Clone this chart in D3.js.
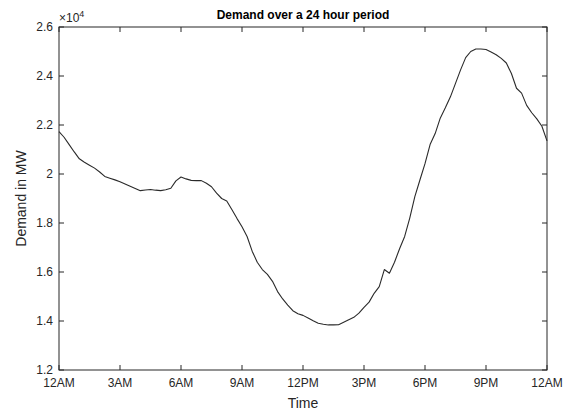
<!DOCTYPE html>
<html>
<head>
<meta charset="utf-8">
<script src="https://cdn.jsdelivr.net/npm/d3@7"></script>
<style>
  body { margin: 0; background: #fff; }
  svg { font-family: "Liberation Sans", Arial, sans-serif; }
</style>
</head>
<body>
<svg id="chart" width="571" height="410"></svg>
<script>
// demand sampled every 15 minutes, hour 0 .. 24
const STEP_HOURS = 0.25;
const demand = [
  21730, 21500, 21200, 20900, 20620, 20480, 20360, 20240,
  20080, 19900, 19830, 19760, 19680, 19590, 19500, 19410,
  19320, 19350, 19370, 19340, 19320, 19360, 19420, 19720,
  19880, 19800, 19740, 19730, 19730, 19620, 19480, 19220,
  19000, 18900, 18550, 18190, 17850, 17450, 16850, 16400,
  16100, 15900, 15620, 15200, 14900, 14650, 14420, 14300,
  14230, 14120, 14010, 13910, 13870, 13840, 13840, 13850,
  13950, 14050, 14150, 14320, 14560, 14770, 15130, 15400,
  16100, 15950, 16400, 16950, 17450, 18200, 19080, 19755,
  20420, 21200, 21650, 22280, 22700, 23150, 23700, 24250,
  24750, 25000, 25100, 25100, 25080, 24980, 24870, 24720,
  24530, 24100, 23500, 23300, 22800, 22500, 22250, 21950,
  21350
];
const xTicks = [0, 3, 6, 9, 12, 15, 18, 21, 24];
const xTickLabels = ["12AM", "3AM", "6AM", "9AM", "12PM", "3PM", "6PM", "9PM", "12AM"];
const yTicks = [12000, 14000, 16000, 18000, 20000, 22000, 24000, 26000];

const AXIS_COLOR = "#262626";
const TICK = 5;
const margin = { top: 27, right: 24, bottom: 40, left: 59 };
const width = 571 - margin.left - margin.right;
const height = 410 - margin.top - margin.bottom;

const svg = d3.select("#chart");
const g = svg.append("g").attr("transform", `translate(${margin.left},${margin.top})`);

const x = d3.scaleLinear().domain([0, 24]).range([0, width]);
const y = d3.scaleLinear().domain([12000, 26000]).range([height, 0]);

// box
g.append("rect")
  .attr("width", width).attr("height", height)
  .attr("fill", "none").attr("stroke", AXIS_COLOR).attr("stroke-width", 1);

// inward ticks on all four sides
const tickGroup = g.append("g").attr("stroke", AXIS_COLOR).attr("stroke-width", 1);
xTicks.forEach(t => {
  tickGroup.append("line").attr("x1", x(t)).attr("x2", x(t)).attr("y1", height).attr("y2", height - TICK);
  tickGroup.append("line").attr("x1", x(t)).attr("x2", x(t)).attr("y1", 0).attr("y2", TICK);
});
yTicks.forEach(t => {
  tickGroup.append("line").attr("x1", 0).attr("x2", TICK).attr("y1", y(t)).attr("y2", y(t));
  tickGroup.append("line").attr("x1", width).attr("x2", width - TICK).attr("y1", y(t)).attr("y2", y(t));
});

// tick labels
g.append("g").selectAll("text").data(xTicks).join("text")
  .attr("x", d => x(d)).attr("y", height + 17)
  .attr("text-anchor", "middle").attr("font-size", 12).attr("fill", AXIS_COLOR)
  .text((d, i) => xTickLabels[i]);

g.append("g").selectAll("text").data(yTicks).join("text")
  .attr("x", -6).attr("y", d => y(d)).attr("dy", "0.35em")
  .attr("text-anchor", "end").attr("font-size", 12).attr("fill", AXIS_COLOR)
  .text(d => d3.format(".1f")(d / 10000).replace(/\.0$/, ""));

// exponent label
const exp = g.append("text").attr("x", 0).attr("y", -5)
  .attr("font-size", 12).attr("fill", AXIS_COLOR);
exp.append("tspan").text("\u00d710");
exp.append("tspan").attr("font-size", 9).attr("dy", -5).text("4");

// line
const line = d3.line()
  .x((d, i) => x(i * STEP_HOURS))
  .y(d => y(d));
g.append("path").datum(demand)
  .attr("d", line)
  .attr("fill", "none").attr("stroke", "#2a2a2a").attr("stroke-width", 1.1)
  .attr("stroke-linejoin", "round");

// title and axis labels
svg.append("text")
  .attr("x", margin.left + width / 2).attr("y", 19)
  .attr("text-anchor", "middle").attr("font-size", 12).attr("font-weight", "bold")
  .attr("fill", "#000").text("Demand over a 24 hour period");

svg.append("text")
  .attr("x", margin.left + width / 2).attr("y", 408)
  .attr("text-anchor", "middle").attr("font-size", 14).attr("fill", AXIS_COLOR)
  .text("Time");

svg.append("text")
  .attr("transform", `translate(26,${margin.top + height / 2}) rotate(-90)`)
  .attr("text-anchor", "middle").attr("font-size", 14).attr("fill", AXIS_COLOR)
  .text("Demand in MW");
</script>
</body>
</html>
